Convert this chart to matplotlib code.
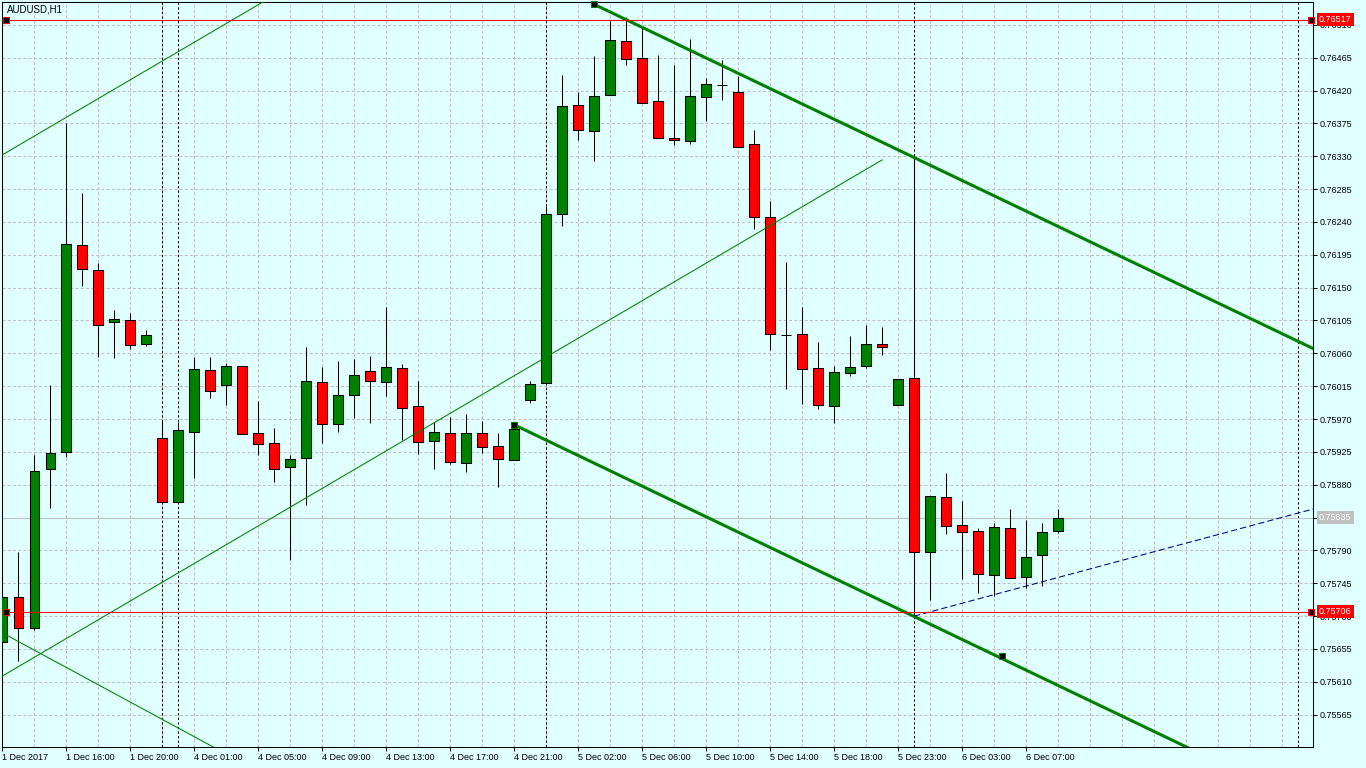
import matplotlib
matplotlib.use("Agg")
import matplotlib.pyplot as plt
import numpy as np

plt.rcParams['font.family'] = ['Liberation Sans', 'DejaVu Sans']

# ---------------- data ----------------
opens = [0.75665, 0.75726, 0.75684, 0.75902, 0.75925, 0.76208, 0.76174, 0.76103, 0.76106, 0.76073,
         0.75944, 0.75856, 0.75952, 0.76037, 0.76017, 0.76043, 0.75951, 0.75937, 0.75904, 0.75917,
         0.76021, 0.75963, 0.76003, 0.76036, 0.76021, 0.76040, 0.75988, 0.75940, 0.75951, 0.75910,
         0.75951, 0.75933, 0.75914, 0.75996, 0.76019, 0.76251, 0.76400, 0.76365, 0.76414, 0.76488,
         0.76465, 0.76406, 0.76355, 0.76351, 0.76411, 0.76428, 0.76418, 0.76347, 0.76247, 0.76085,
         0.76086, 0.76040, 0.75988, 0.76033, 0.76043, 0.76073, 0.75989, 0.76026, 0.75788, 0.75863,
         0.75825, 0.75817, 0.75756, 0.75821, 0.75754, 0.75784, 0.75817]
highs = [0.75726, 0.75788, 0.75921, 0.76017, 0.76376, 0.76280, 0.76184, 0.76119, 0.76115, 0.76092,
         0.75967, 0.75966, 0.76055, 0.76055, 0.76047, 0.76043, 0.75995, 0.75958, 0.75921, 0.76069,
         0.76041, 0.76049, 0.76052, 0.76056, 0.76123, 0.76045, 0.76022, 0.75966, 0.75973, 0.75977,
         0.75967, 0.75951, 0.75962, 0.76022, 0.76262, 0.76441, 0.76418, 0.76467, 0.76515, 0.76521,
         0.76506, 0.76469, 0.76455, 0.76491, 0.76437, 0.76462, 0.76440, 0.76366, 0.76269, 0.76185,
         0.76123, 0.76076, 0.76043, 0.76084, 0.76099, 0.76096, 0.76025, 0.76329, 0.75865, 0.75896,
         0.75858, 0.75821, 0.75828, 0.75847, 0.75832, 0.75828, 0.75847]
lows = [0.75665, 0.75639, 0.75681, 0.75848, 0.75918, 0.76152, 0.76055, 0.76054, 0.76066, 0.76070,
        0.75856, 0.75856, 0.75889, 0.75999, 0.75989, 0.75950, 0.75921, 0.75884, 0.75777, 0.75852,
        0.75937, 0.75952, 0.75971, 0.75965, 0.76002, 0.75941, 0.75922, 0.75902, 0.75908, 0.75897,
        0.75923, 0.75877, 0.75914, 0.75992, 0.76019, 0.76234, 0.76352, 0.76323, 0.76414, 0.76455,
        0.76403, 0.76355, 0.76345, 0.76347, 0.76378, 0.76407, 0.76342, 0.76230, 0.76065, 0.76011,
        0.75991, 0.75984, 0.75965, 0.76029, 0.76040, 0.76058, 0.75989, 0.75700, 0.75722, 0.75812,
        0.75751, 0.75732, 0.75728, 0.75752, 0.75739, 0.75741, 0.75814]
closes = [0.75726, 0.75684, 0.75899, 0.75923, 0.76210, 0.76176, 0.76099, 0.76107, 0.76071, 0.76085,
          0.75856, 0.75955, 0.76039, 0.76008, 0.76043, 0.75950, 0.75936, 0.75902, 0.75915, 0.76022,
          0.75963, 0.76003, 0.76030, 0.76022, 0.76041, 0.75985, 0.75939, 0.75952, 0.75911, 0.75951,
          0.75932, 0.75915, 0.75956, 0.76018, 0.76251, 0.76399, 0.76366, 0.76412, 0.76489, 0.76463,
          0.76403, 0.76355, 0.76352, 0.76412, 0.76429, 0.76428, 0.76343, 0.76247, 0.76086, 0.76085,
          0.76039, 0.75989, 0.76034, 0.76041, 0.76073, 0.76069, 0.76025, 0.75788, 0.75865, 0.75823,
          0.75815, 0.75758, 0.75822, 0.75752, 0.75781, 0.75815, 0.75835]

x_tick_pos = [0, 4, 8, 12, 16, 20, 24, 28, 32, 36, 40, 44, 48, 52, 56, 60, 64]
x_tick_labels = ["1 Dec 2017", "1 Dec 16:00", "1 Dec 20:00", "4 Dec 01:00", "4 Dec 05:00",
                 "4 Dec 09:00", "4 Dec 13:00", "4 Dec 17:00", "4 Dec 21:00", "5 Dec 02:00",
                 "5 Dec 06:00", "5 Dec 10:00", "5 Dec 14:00", "5 Dec 18:00", "5 Dec 23:00",
                 "6 Dec 03:00", "6 Dec 07:00"]
price_ticks = [0.75565, 0.75610, 0.75655, 0.75700, 0.75745, 0.75790, 0.75835, 0.75880,
               0.75925, 0.75970, 0.76015, 0.76060, 0.76105, 0.76150, 0.76195, 0.76240,
               0.76285, 0.76330, 0.76375, 0.76420, 0.76465, 0.76510]

separators = [10, 11, 34, 57, 81]
hline_levels = [0.76517, 0.75706]
bid_price = 0.75835

# thin up-channel (lower line anchors + parallel offset)
chan_x = [0, 55]
chan_lo = [0.75618, 0.76325]
chan_offset = 0.00714
# thin falling line
fall_x = [0, 14]
fall_y = [0.75677, 0.75511]
# thick falling channel
thick_up_x = [37, 82]
thick_up_y = [0.76538, 0.76066]
thick_lo_x = [32, 82]
thick_lo_y = [0.75962, 0.75437]
thick_markers_x = [37, 32, 62.5]
thick_markers_y = [0.76538, 0.75962, 0.75645]
# blue dashed trend line
blue_x = [57, 82]
blue_y = [0.75700, 0.75847]

# ---------------- figure ----------------
BG = '#E0FFFF'
W, H = 1366, 768
fig = plt.figure(figsize=(W / 100, H / 100), dpi=100, facecolor=BG)
L, R, T, B = 2, 1313, 2, 747
ax = fig.add_axes([L / W, 1 - B / H, (R - L) / W, (B - T) / H], facecolor=BG)

ax.set_xlim(-0.03, (R - L) / 16)
ax.set_ylim(0.755207, 0.765413)

# grid
for v in price_ticks:
    ax.axhline(v, color='#C0C0C0', lw=0.75, ls=(0, (3, 2)), zorder=0.5)
for i in range(0, 82, 2):
    ax.axvline(i, color='#C0C0C0', lw=0.75, ls=(0, (3, 2)), zorder=0.5)
for s in separators:
    ax.axvline(s, color='black', lw=0.75, ls=(0, (2.2, 2.2)), zorder=1)

ax.axhline(bid_price, color='#C0C0C0', lw=0.75, zorder=1.2)

# candles
idx = np.arange(len(opens))
o = np.array(opens); c = np.array(closes); h = np.array(highs); l = np.array(lows)
ax.vlines(idx, l, h, color='black', lw=0.75, zorder=2)
colors = ['#008000' if cc >= oo else '#FF0000' for oo, cc in zip(o, c)]
ax.bar(idx, np.abs(c - o), bottom=np.minimum(o, c), width=0.62, color=colors,
       edgecolor='black', linewidth=0.75, zorder=3)

# objects
ax.plot(chan_x, chan_lo, color='#008000', lw=0.75, zorder=4)
ax.plot(chan_x, [v + chan_offset for v in chan_lo], color='#008000', lw=0.75, zorder=4)
ax.plot(fall_x, fall_y, color='#008000', lw=0.75, zorder=4)
ax.plot(thick_up_x, thick_up_y, color='#008000', lw=2.2, zorder=4, solid_capstyle='butt')
ax.plot(thick_lo_x, thick_lo_y, color='#008000', lw=2.2, zorder=4, solid_capstyle='butt')
ax.plot(thick_markers_x, thick_markers_y, 's', ms=4.2, mfc='black', mec='#008000', mew=0.8, zorder=5, clip_on=False)
ax.plot(blue_x, blue_y, color='#000080', lw=0.75, ls=(0, (6, 3)), zorder=4)

for lvl in hline_levels:
    ax.axhline(lvl, color='red', lw=0.75, zorder=4)
    ax.plot([0.2, 81.8], [lvl, lvl], 's', ms=3.8, mfc='black', mec='red', mew=0.8, zorder=5, clip_on=False)

# axes styling
for sp in ax.spines.values():
    sp.set_color('black'); sp.set_linewidth(0.75)
ax.yaxis.tick_right()
ax.set_yticks(price_ticks)
ax.set_yticklabels([f"{v:.5f}" for v in price_ticks])
ax.tick_params(axis='y', direction='out', length=3, width=0.75, pad=1.5, labelsize=6.5, colors='black')
ax.set_xticks(x_tick_pos)
ax.set_xticklabels(x_tick_labels, ha='left')
ax.tick_params(axis='x', direction='out', length=3, width=0.75, pad=1.5, labelsize=6.5, colors='black')

# price label boxes
for price, fc in [(0.76517, '#FF0000'), (0.75706, '#FF0000'), (bid_price, '#C0C0C0')]:
    ax.annotate(f"{price:.5f}", xy=(1, price), xycoords=('axes fraction', 'data'),
                xytext=(4.3, 0), textcoords='offset points', ha='left', va='center',
                fontsize=6.5, color='white',
                bbox=dict(boxstyle='square,pad=0.25', fc=fc, ec='none'),
                annotation_clip=False, zorder=10)

fig.text(7 / W, 1 - 9 / H, 'AUDUSD,H1', fontsize=7, ha='left', va='center', color='black', zorder=10)

fig.savefig('out.png', dpi=100, facecolor=BG)
